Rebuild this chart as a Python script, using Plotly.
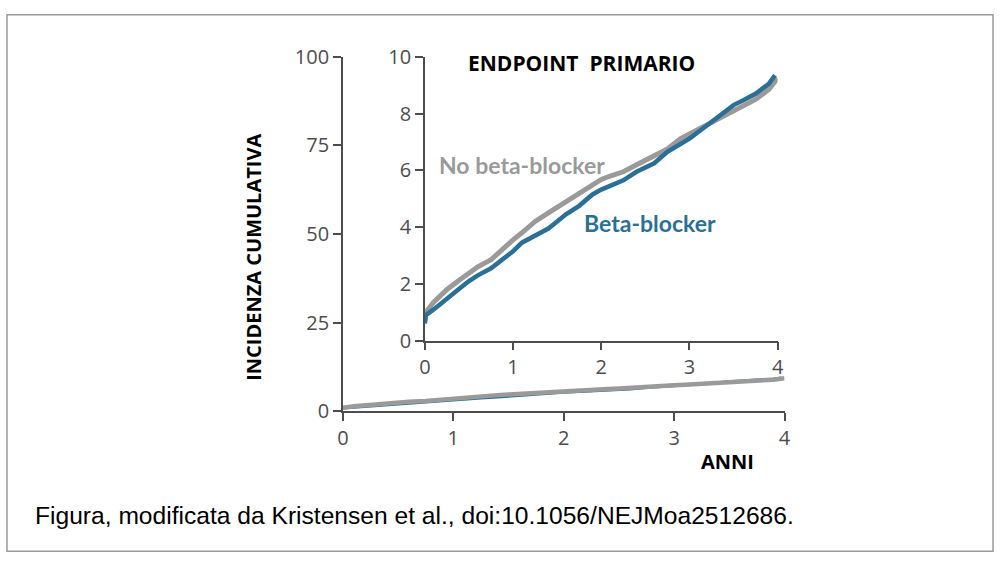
import plotly.graph_objects as go

# Time in years (x values)
t_gray = [0, 0.01, 0.1, 0.25, 0.4, 0.5, 0.6, 0.75, 0.9, 1.0, 1.1, 1.25, 1.4, 1.5, 1.6, 1.75,
          1.9, 2.0, 2.1, 2.25, 2.4, 2.5, 2.6, 2.75, 2.9, 3.0, 3.1, 3.25, 3.4, 3.5, 3.6, 3.75, 3.9, 4.0]
no_beta = [0.7, 1.0, 1.35, 1.8, 2.15, 2.4, 2.6, 2.85, 3.3, 3.55, 3.8, 4.2, 4.5, 4.7, 4.9, 5.2,
           5.5, 5.68, 5.8, 5.95, 6.2, 6.35, 6.48, 6.75, 7.12, 7.28, 7.45, 7.68, 7.95, 8.1, 8.28, 8.5, 8.85, 9.25]

t_blue = [0, 0.01, 0.1, 0.25, 0.4, 0.5, 0.6, 0.75, 0.9, 1.0, 1.1, 1.25, 1.4, 1.5, 1.6, 1.75,
          1.9, 2.0, 2.1, 2.25, 2.4, 2.5, 2.6, 2.75, 2.9, 3.0, 3.1, 3.25, 3.4, 3.5, 3.6, 3.75, 3.9, 3.97]
beta = [0.6, 0.9, 1.1, 1.45, 1.85, 2.1, 2.3, 2.55, 2.9, 3.15, 3.45, 3.72, 3.95, 4.2, 4.45, 4.75,
        5.15, 5.32, 5.45, 5.65, 5.95, 6.1, 6.25, 6.65, 6.92, 7.12, 7.35, 7.7, 8.02, 8.3, 8.45, 8.7, 9.05, 9.35]

outer_yticks = [0, 25, 50, 75, 100]
inset_yticks = [0, 2, 4, 6, 8, 10]
xticks = [0, 1, 2, 3, 4]

GRAY = "#9a9a9a"
BLUE = "#2a6f97"
AX = "#4d4d4d"
TICKFONT = dict(family="Open Sans", size=20, color=AX)

fig = go.Figure()

# Outer plot
fig.add_trace(go.Scatter(x=t_blue, y=beta, xaxis="x", yaxis="y", mode="lines",
                         line=dict(color=BLUE, width=3), showlegend=False))
fig.add_trace(go.Scatter(x=t_gray, y=no_beta, xaxis="x", yaxis="y", mode="lines",
                         line=dict(color=GRAY, width=4.5), showlegend=False))
# Inset plot
fig.add_trace(go.Scatter(x=t_gray, y=no_beta, xaxis="x2", yaxis="y2", mode="lines",
                         line=dict(color=GRAY, width=5), showlegend=False))
fig.add_trace(go.Scatter(x=t_blue, y=beta, xaxis="x2", yaxis="y2", mode="lines",
                         line=dict(color=BLUE, width=4.5), showlegend=False))

axis_common = dict(showline=True, linecolor=AX, linewidth=1.5, ticks="outside",
                   tickcolor=AX, tickwidth=1.5, ticklen=8, showgrid=False,
                   zeroline=False, tickfont=TICKFONT)

fig.update_layout(
    width=1000, height=565, autosize=False,
    margin=dict(l=0, r=0, t=0, b=0, pad=0),
    paper_bgcolor="white", plot_bgcolor="rgba(0,0,0,0)",
    xaxis=dict(domain=[0.341, 0.788], range=[0, 4], tickvals=xticks, anchor="y", **axis_common),
    yaxis=dict(domain=[1 - 417 / 565, 1 - 45 / 565], range=[0, 100], tickvals=outer_yticks,
               anchor="x", **axis_common),
    xaxis2=dict(domain=[0.424, 0.781], range=[0, 4], tickvals=xticks, anchor="y2", **axis_common),
    yaxis2=dict(domain=[1 - 343 / 565, 1 - 45 / 565], range=[0, 10], tickvals=inset_yticks,
                anchor="x2", **axis_common),
)


def label(text, px, py, font, angle=0, xanchor="center"):
    fig.add_annotation(text=text, x=px / 1000, y=1 - py / 565, xref="paper", yref="paper",
                       xanchor=xanchor, yanchor="middle", showarrow=False, textangle=angle,
                       font=font)


label("<b>ENDPOINT  PRIMARIO</b>", 582.5, 51, dict(family="Open Sans", size=21, color="black"))
label("<b>No beta-blocker</b>", 522.5, 159, dict(family="Lato", size=23, color=GRAY))
label("<b>Beta-blocker</b>", 652, 219, dict(family="Lato", size=23, color=BLUE))
label("<b>INCIDENZA CUMULATIVA</b>", 251, 255, dict(family="Open Sans", size=20, color="black"), angle=-90)
label("<b>ANNI</b>", 730, 470, dict(family="Open Sans", size=20, color="black"))
label("Figura, modificata da Kristensen et al., doi:10.1056/NEJMoa2512686.", 27, 527,
      dict(family="Liberation Sans", size=24.6, color="black"), xanchor="left")

fig.add_shape(type="rect", xref="paper", yref="paper", x0=0.001, x1=0.999, y0=0.0015, y1=0.9985,
              line=dict(color="#9a9a9a", width=1.5), fillcolor="rgba(0,0,0,0)")

fig.write_html("out.html", config={"responsive": False, "displayModeBar": False},
               default_width="1000px", default_height="565px",
               post_script="document.body.style.margin='0px';document.body.style.overflow='hidden';")
